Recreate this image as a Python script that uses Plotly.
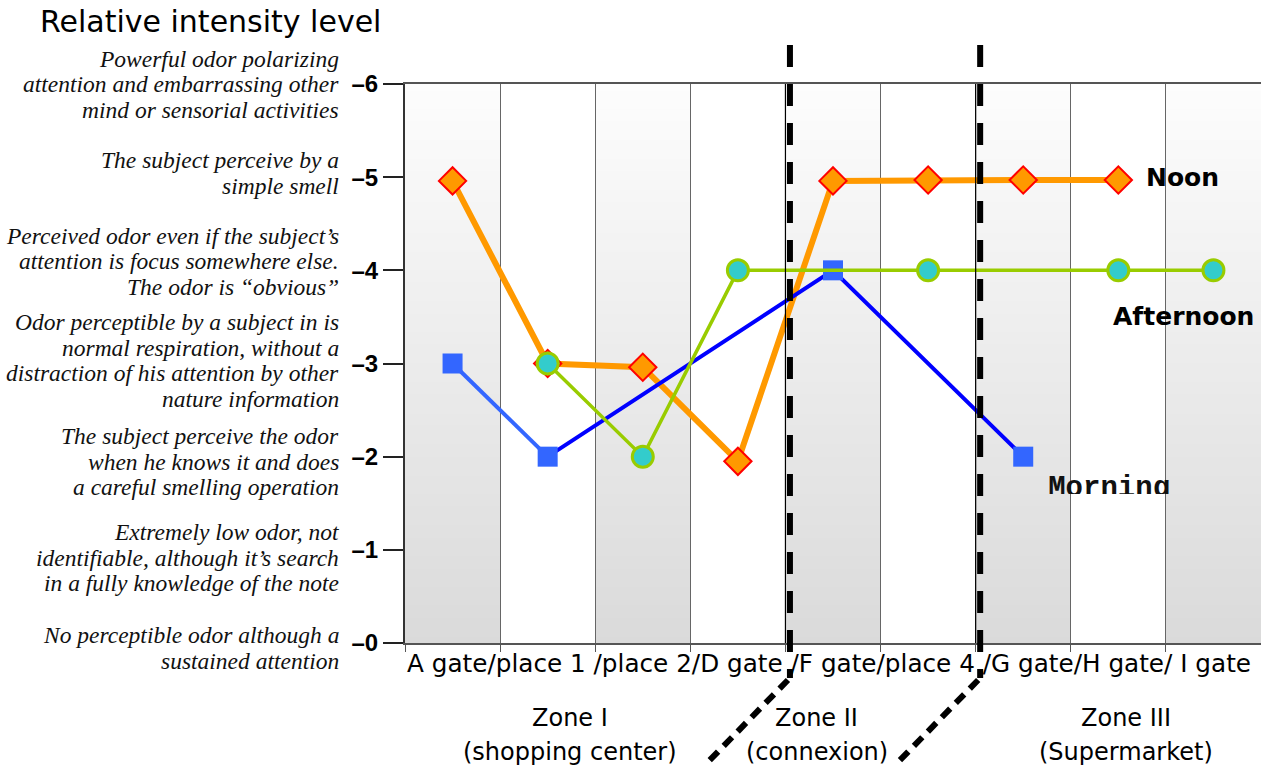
import plotly.graph_objects as go

# ---------------- data ----------------
categories = ["A gate", "/place 1 ", "/place 2", "/D gate ", "/F gate",
              "/place 4 ", "/G gate", "/H gate", "/ I gate"]
x_idx = list(range(len(categories)))

morning = [3, 2, None, None, 4, None, 2, None, None]
afternoon = [None, 3, 2, 4, None, 4, None, 4, 4]
noon = [4.96, 3.0, 2.96, 1.95, 4.96, 4.97, 4.97, 4.97, None]

y_levels = [0, 1, 2, 3, 4, 5, 6]
y_ticktext = ["\u20130", "\u20131", "\u20132", "\u20133", "\u20134", "\u20135", "\u20136"]
level_desc = [
    ["No perceptible odor although a", "sustained attention"],
    ["Extremely low odor, not", "identifiable, although it\u2019s search",
     "in a fully knowledge of the note"],
    ["The subject perceive the odor", "when he knows it and does",
     "a careful smelling operation"],
    ["Odor perceptible by a subject in is", "normal respiration, without a",
     "distraction of his attention by other", "nature information"],
    ["Perceived odor even if the subject\u2019s", "attention is focus somewhere else.",
     "The odor is \u201cobvious\u201d"],
    ["The subject perceive by a", "simple smell"],
    ["Powerful odor polarizing", "attention and embarrassing other",
     "mind or sensorial activities"],
]
zones = [("Zone I", "(shopping center)"), ("Zone II", "(connexion)"), ("Zone III", "(Supermarket)")]
zone_centers = [1.23, 3.83, 7.08]
zone_bounds = [3.5, 5.5]

# ---------------- layout constants ----------------
W, H = 1261, 771
ML, MR, MT, MB = 405, 0, 84, 128
PW = W - ML - MR
PH = H - MT - MB
SANS = "DejaVu Sans"
SERIF = "Liberation Serif"
DESC_SHIFT = [-5, -8, -5, 3, 9, 4, 0]   # px offset of each description block (up = +)
LINE_GAP = 25.5

def px_x(px):
    return (px - ML) / PW

def px_y(py):
    return (H - MB - py) / PH

fig = go.Figure()

# Noon
fig.add_trace(go.Scatter(
    x=x_idx, y=noon, mode="lines+markers", connectgaps=True,
    line=dict(color="#ff9900", width=6),
    marker=dict(symbol="diamond", size=21, color="#ff9900",
                line=dict(color="#ff0000", width=2)),
    cliponaxis=False, showlegend=False, name="Noon"))

# Morning
m_pts = [(x, v) for x, v in zip(x_idx, morning) if v is not None]
fig.add_trace(go.Scatter(
    x=[p[0] for p in m_pts[:2]], y=[p[1] for p in m_pts[:2]], mode="lines",
    line=dict(color="#3366ff", width=4), showlegend=False))
fig.add_trace(go.Scatter(
    x=[p[0] for p in m_pts[1:]], y=[p[1] for p in m_pts[1:]], mode="lines",
    line=dict(color="#0000ff", width=4), showlegend=False))
fig.add_trace(go.Scatter(
    x=x_idx, y=morning, mode="markers",
    marker=dict(symbol="square", size=20, color="#3366ff"),
    cliponaxis=False, showlegend=False, name="Morning"))

# Afternoon
fig.add_trace(go.Scatter(
    x=x_idx, y=afternoon, mode="lines+markers", connectgaps=True,
    line=dict(color="#99cc00", width=3.5),
    marker=dict(symbol="circle", size=21, color="#33cccc",
                line=dict(color="#99cc00", width=3)),
    cliponaxis=False, showlegend=False, name="Afternoon"))

# "Morning" label, clipped at its bottom by a transparent helper subplot
clip_bottom_px = 494
fig.add_trace(go.Scatter(
    x=[6 + 25 / (PW / 9)], y=[0.0], mode="text", text=["<b>Morning</b>"],
    textposition="middle right",
    textfont=dict(family="Liberation Mono", size=29, color="#111"),
    xaxis="x2", yaxis="y2", cliponaxis=True, showlegend=False, hoverinfo="skip"))

shapes = []
# gradient shading in alternate columns
N = 90
top_c, bot_c = 253, 218
for c in range(0, len(categories), 2):
    for k in range(N):
        t = (k + 0.5) / N
        g = int(round(bot_c + (top_c - bot_c) * t))
        shapes.append(dict(type="rect", xref="x", yref="y",
                           x0=c - 0.5, x1=c + 0.5,
                           y0=6 * k / N, y1=min(6.0, 6 * (k + 1.6) / N),
                           fillcolor=f"rgb({g},{g},{g})", line=dict(width=0),
                           layer="below"))
# zone boundary lines (thin solid + thick dashed)
for b in zone_bounds:
    shapes.append(dict(type="line", xref="x", yref="y", x0=b, x1=b, y0=0, y1=6,
                       line=dict(color="#000", width=1.2)))
    bx = (b + 0.5) / 9 + 4.5 / PW
    shapes.append(dict(type="line", xref="paper", yref="paper",
                       x0=bx, x1=bx, y0=px_y(45), y1=px_y(678),
                       line=dict(color="#000", width=6, dash="22px,17px")))
    shapes.append(dict(type="line", xref="paper", yref="paper",
                       x0=bx - 2 / PW, x1=bx - 82 / PW, y0=px_y(680), y1=px_y(762),
                       line=dict(color="#000", width=6, dash="12px,8px")))

annotations = []
# title
annotations.append(dict(xref="paper", yref="paper", x=px_x(38), y=px_y(22),
                        xanchor="left", yanchor="middle", showarrow=False,
                        text="Relative intensity level",
                        font=dict(family=SANS, size=30, color="#000")))
# level descriptions, one annotation per line
for lvl, lines, sh in zip(y_levels, level_desc, DESC_SHIFT):
    n = len(lines)
    for j, ln in enumerate(lines):
        off = ((n - 1) / 2 - j) * LINE_GAP + sh
        annotations.append(dict(xref="paper", yref="y", x=px_x(341), y=lvl,
                                yshift=off, xanchor="right", yanchor="middle",
                                showarrow=False, text=f"<i>{ln}</i>",
                                font=dict(family=SERIF, size=23.5, color="#111")))
# category labels as one continuous string starting at the axis
annotations.append(dict(xref="x", yref="paper", x=-0.5, y=px_y(663),
                        xanchor="left", yanchor="middle", showarrow=False,
                        text="".join(categories).replace(" ", "\u00a0"),
                        font=dict(family=SANS, size=24.7, color="#000")))
# zone labels
for (z1, z2), zc in zip(zones, zone_centers):
    annotations.append(dict(xref="x", yref="paper", x=zc, y=px_y(718),
                            showarrow=False, text=z1, yanchor="middle",
                            font=dict(family=SANS, size=24, color="#000")))
    annotations.append(dict(xref="x", yref="paper", x=zc, y=px_y(752),
                            showarrow=False, text=z2, yanchor="middle",
                            font=dict(family=SANS, size=24, color="#000")))
# series labels
annotations.append(dict(xref="x", yref="y", x=7, y=noon[7], xanchor="left",
                        xshift=26, yshift=2, showarrow=False, text="<b>Noon</b>",
                        font=dict(family=SANS, size=25, color="#000")))
annotations.append(dict(xref="x", yref="y", x=7, y=3.5, xanchor="left",
                        xshift=-7, showarrow=False, text="<b>Afternoon</b>",
                        font=dict(family=SANS, size=25, color="#000")))

fig.update_layout(
    width=W, height=H,
    margin=dict(l=ML, r=MR, t=MT, b=MB),
    paper_bgcolor="white", plot_bgcolor="rgba(0,0,0,0)",
    shapes=shapes, annotations=annotations,
    xaxis=dict(range=[-0.5, 8.5], tickmode="array",
               tickvals=[i - 0.5 for i in range(len(categories) + 1)],
               ticktext=[""] * (len(categories) + 1),
               ticks="outside", ticklen=7, tickcolor="#555",
               showgrid=True, gridcolor="#666", gridwidth=1, zeroline=False,
               showline=True, linecolor="#555", linewidth=2, mirror=True),
    yaxis=dict(range=[0, 6], tickmode="array", tickvals=y_levels,
               ticktext=y_ticktext, ticks="outside", ticklen=20,
               tickcolor="#222", tickwidth=2, showgrid=False, zeroline=False,
               showline=True, linecolor="#333", linewidth=2,
               tickfont=dict(family="Liberation Sans", size=24, color="#000",
                             weight="bold")),
    xaxis2=dict(domain=[0, 1], range=[-0.5, 8.5], anchor="y2", visible=False,
                fixedrange=True),
    yaxis2=dict(domain=[px_y(clip_bottom_px), px_y(clip_bottom_px) + 0.1],
                range=[-0.1, 1.0], anchor="x2", visible=False, fixedrange=True),
)

fig.write_html("out.html", config={"displayModeBar": False},
               post_script="document.body.style.margin='0px';")
